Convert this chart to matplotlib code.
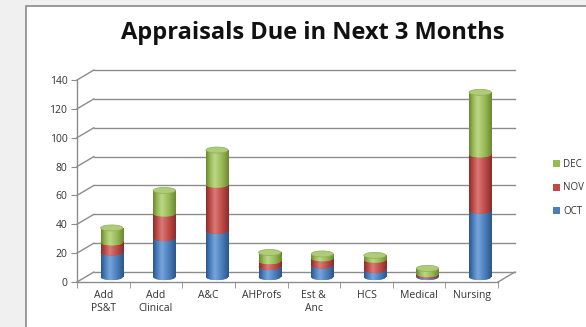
import numpy as np
import matplotlib.pyplot as plt
from matplotlib.patches import Rectangle, Ellipse, Patch
from matplotlib.colors import LinearSegmentedColormap

plt.rcParams['font.family'] = ['Open Sans', 'DejaVu Sans']

categories = ['Add\nPS&T', 'Add\nClinical', 'A&C', 'AHProfs', 'Est &\nAnc', 'HCS', 'Medical', 'Nursing']
oct_vals = [17, 27, 32, 7, 8, 5, 1, 46]
nov_vals = [7, 17, 32, 4, 5, 7, 1, 39]
dec_vals = [10, 16, 24, 6, 3, 3, 4, 43]
series = ['OCT', 'NOV', 'DEC']
yticks = [0, 20, 40, 60, 80, 100, 120, 140]

# (dark edge, base, highlight) per series
shades = {
    'OCT': ('#2b5688', '#4a7ebb', '#78a4dc'),
    'NOV': ('#8a2c2a', '#be4b48', '#d97a77'),
    'DEC': ('#6a8733', '#98b954', '#bcd887'),
}
cap_color = '#aecb78'

fig = plt.figure(figsize=(5.86, 3.27), dpi=100)
fig.patch.set_facecolor('#f0f0f0')
panel = Rectangle((26 / 586, -0.01), 1, (327 - 6.5) / 327 + 0.01,
                  transform=fig.transFigure, facecolor='white',
                  edgecolor='#8a8a8a', lw=1.2, zorder=-5)
fig.patches.append(panel)

ax = fig.add_axes([77 / 586, 45 / 327, 421 / 586, 202 / 327])
ax.set_facecolor('none')
ax.set_zorder(2)

# depth of the 3d box in data units
dx, dy = 0.32, 6.9
grid_c = '#8c8c8c'

for v in yticks:
    ax.plot([-0.5 + dx, 7.5 + dx], [v + dy, v + dy], color=grid_c, lw=1, clip_on=False, zorder=1)
    ax.plot([-0.5, -0.5 + dx], [v, v + dy], color=grid_c, lw=1, clip_on=False, zorder=1)
ax.plot([7.5, 7.5 + dx], [0, dy], color=grid_c, lw=1, clip_on=False, zorder=1)

# cylinders
w = 0.42
eh = 4.2
grad = np.linspace(0, 1, 128)[None, :]
stack = {'OCT': oct_vals, 'NOV': nov_vals, 'DEC': dec_vals}
for i in range(len(categories)):
    xc = i + dx / 2
    bottom = dy / 2
    z = 3
    for s in series:
        h = stack[s][i]
        dark, base, light = shades[s]
        cmap = LinearSegmentedColormap.from_list(
            s, [(0, dark), (0.18, base), (0.38, light), (0.7, base), (1, dark)])
        ell = Ellipse((xc, bottom), w, eh, facecolor=base, edgecolor='none', zorder=z)
        body = Rectangle((xc - w / 2, bottom), w, h, facecolor=base, edgecolor='none', zorder=z)
        ax.add_patch(ell)
        ax.add_patch(body)
        for p in (ell, body):
            im = ax.imshow(grad, cmap=cmap, aspect='auto', interpolation='bilinear',
                           extent=[xc - w / 2, xc + w / 2, bottom - eh, bottom + h + eh],
                           zorder=z + 0.01)
            im.set_clip_path(p)
        bottom += h
        z += 0.1
    ax.add_patch(Ellipse((xc, bottom), w, eh, facecolor=cap_color,
                         edgecolor='#8fae55', lw=0.5, zorder=z))

ax.set_xlim(-0.5, 7.5)
ax.set_ylim(0, 140)
for side in ['top', 'right']:
    ax.spines[side].set_visible(False)
for side in ['left', 'bottom']:
    ax.spines[side].set_color(grid_c)
    ax.spines[side].set_linewidth(1)

ax.set_yticks(yticks)
ax.set_xticks(range(len(categories)))
ax.set_xticklabels(categories, linespacing=1.2)
ax.set_xticks(np.arange(-0.5, len(categories), 1), minor=True)
ax.tick_params(axis='y', length=4, color=grid_c, labelsize=7.5, labelcolor='#333333', pad=3)
ax.tick_params(axis='x', which='major', length=0, labelsize=7.5, labelcolor='#333333', pad=6)
ax.tick_params(axis='x', which='minor', length=4, color=grid_c)

fig.text(313 / 586, (327 - 33) / 327, 'Appraisals Due in Next 3 Months',
         ha='center', va='center', fontsize=17, fontweight='bold', color='#111111')

handles = [Patch(facecolor=shades[s][1], label=s) for s in ['DEC', 'NOV', 'OCT']]
fig.legend(handles=handles, loc='center left', bbox_to_anchor=(544 / 586, (327 - 188) / 327),
           frameon=False, fontsize=7, handlelength=0.75, handleheight=0.75,
           handletextpad=0.3, labelspacing=1.3, labelcolor='#333333')

fig.savefig('out.png', dpi=100, facecolor=fig.get_facecolor())
